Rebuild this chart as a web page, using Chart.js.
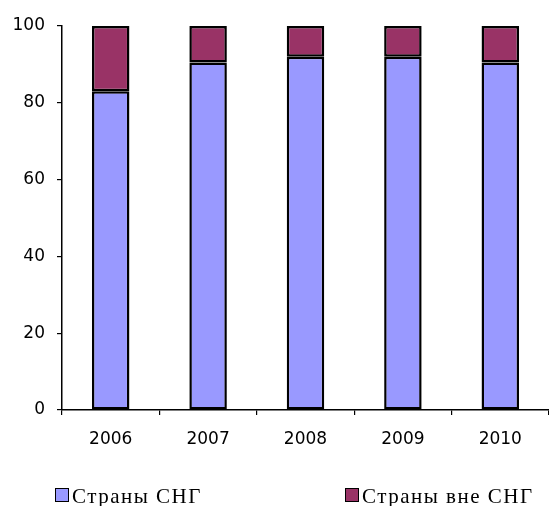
<!DOCTYPE html>
<html>
<head>
<meta charset="utf-8">
<script src="https://cdn.jsdelivr.net/npm/chart.js@4"></script>
<style>
  html, body { margin: 0; padding: 0; background: #fff; }
  #wrap { position: relative; width: 549px; height: 506px; }
  #legend { position: absolute; left: 0; top: 484px; width: 549px; height: 22px;
            font-family: "Liberation Serif", serif; font-size: 21px; color: #000; }
  .item { position: absolute; top: 0; white-space: nowrap; letter-spacing: 1.5px; }
  .box { display: inline-block; width: 12px; height: 12px; border: 1px solid #000;
         margin-right: 3px; vertical-align: 1px; }
</style>
</head>
<body>
<div id="wrap">
  <canvas id="chart" width="549" height="506"></canvas>
  <div id="legend"></div>
</div>
<script>
const years = ['2006', '2007', '2008', '2009', '2010'];
const cisShare = [83, 90.5, 92, 92, 90.5];
const nonCisShare = [17, 9.5, 8, 8, 9.5];
const seriesNames = ['Страны СНГ', 'Страны вне СНГ'];
const seriesColors = ['#9999FF', '#993366'];
const yTicks = [0, 20, 40, 60, 80, 100];

const tickFont = { family: 'DejaVu Sans', size: 17 };

new Chart(document.getElementById('chart').getContext('2d'), {
  type: 'bar',
  data: {
    labels: years,
    datasets: [
      { label: seriesNames[0], data: cisShare, backgroundColor: seriesColors[0],
        borderColor: '#000', borderWidth: 2.5, borderSkipped: false },
      { label: seriesNames[1], data: nonCisShare, backgroundColor: seriesColors[1],
        borderColor: '#000', borderWidth: 2.5, borderSkipped: false }
    ]
  },
  options: {
    responsive: false,
    animation: false,
    layout: { padding: { top: 26, right: 0, bottom: 56, left: 0 } },
    datasets: { bar: { categoryPercentage: 1, barPercentage: 0.385 } },
    plugins: { legend: { display: false }, tooltip: { enabled: false } },
    scales: {
      x: {
        stacked: true,
        grid: { drawOnChartArea: false, drawTicks: true, tickLength: 5, color: '#000', lineWidth: 1.2 },
        border: { color: '#000', width: 1.5 },
        ticks: { color: '#000', font: tickFont, padding: 14, maxRotation: 0 },
        afterFit: s => { s.height = 40; }
      },
      y: {
        stacked: true,
        min: 0, max: 100,
        afterBuildTicks: s => { s.ticks = yTicks.map(v => ({ value: v })); },
        grid: { drawOnChartArea: false, drawTicks: true, tickLength: 5, color: '#000', lineWidth: 1.2 },
        border: { color: '#000', width: 1.5 },
        ticks: { color: '#000', font: tickFont, padding: 12 },
        afterFit: s => { s.width = 62; }
      }
    }
  }
});

// legend built from the series arrays
const legend = document.getElementById('legend');
const legendX = [55, 345];
seriesNames.forEach((name, i) => {
  const el = document.createElement('div');
  el.className = 'item';
  el.style.left = legendX[i] + 'px';
  el.innerHTML = '<span class="box" style="background:' + seriesColors[i] + '"></span>' + name;
  legend.appendChild(el);
});
</script>
</body>
</html>
